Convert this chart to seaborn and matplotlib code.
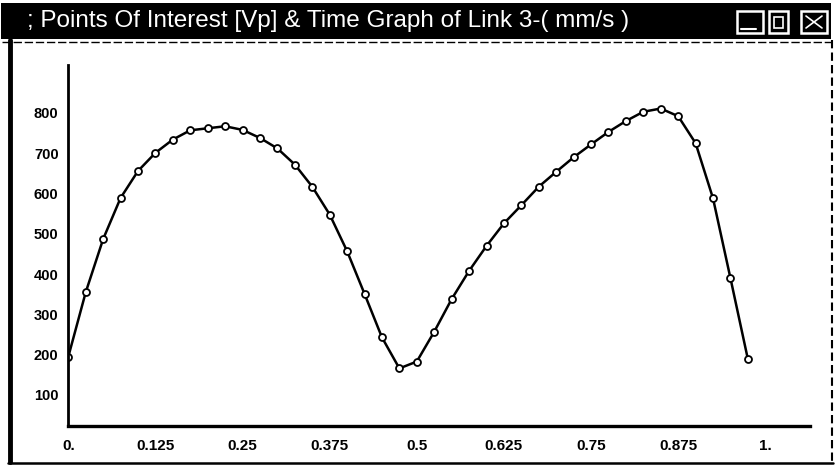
import matplotlib
matplotlib.use("Agg")
import matplotlib.pyplot as plt
import seaborn as sns
import pandas as pd
from matplotlib.patches import Rectangle
from matplotlib.lines import Line2D

# ---- data ----
time_s = [0.000, 0.025, 0.050, 0.075, 0.100, 0.125, 0.150, 0.175, 0.200, 0.225,
          0.250, 0.275, 0.300, 0.325, 0.350, 0.375, 0.400, 0.425, 0.450, 0.475,
          0.500, 0.525, 0.550, 0.575, 0.600, 0.625, 0.650, 0.675, 0.700, 0.725,
          0.750, 0.775, 0.800, 0.825, 0.850, 0.875, 0.900, 0.925, 0.950, 0.975]
vp_mm_s = [195, 355, 487, 589, 656, 701, 734, 757, 762, 767,
           758, 738, 712, 672, 617, 548, 457, 351, 243, 166,
           183, 257, 338, 408, 470, 526, 571, 617, 654, 690,
           722, 753, 780, 803, 811, 792, 725, 588, 390, 189]
x_ticks = [0, 0.125, 0.25, 0.375, 0.5, 0.625, 0.75, 0.875, 1.0]
x_tick_labels = ["0.", "0.125", "0.25", "0.375", "0.5", "0.625", "0.75", "0.875", "1."]
y_ticks = [100, 200, 300, 400, 500, 600, 700, 800]
y_tick_labels = ["100", "200", "300", "400", "500", "600", "700", "800"]
title_text = "; Points Of Interest [Vp] & Time Graph of Link 3-( mm/s )"

df = pd.DataFrame({"t": time_s, "v": vp_mm_s})

sns.set_theme(style="white")
plt.rcParams['font.family'] = ['Liberation Sans Narrow', 'Liberation Sans', 'DejaVu Sans']

W, H = 835, 473
fig = plt.figure(figsize=(W / 100, H / 100), dpi=100)
fig.patch.set_facecolor("white")

def fx(px):
    return px / W

def fy(py):
    return 1 - py / H

# ---- window chrome ----
fig.patches.append(Rectangle((fx(1), fy(39)), fx(831) - fx(1), fy(3) - fy(39),
                             transform=fig.transFigure, facecolor="black",
                             edgecolor="none", zorder=0))
fig.add_artist(Line2D([fx(2), fx(832)], [fy(42), fy(42)], transform=fig.transFigure,
                      color="black", lw=1.0, ls=(0, (6, 2))))
fig.add_artist(Line2D([fx(10), fx(10)], [fy(40), fy(462)], transform=fig.transFigure,
                      color="black", lw=3.5))
fig.add_artist(Line2D([fx(832), fx(832)], [fy(40), fy(463)], transform=fig.transFigure,
                      color="black", lw=1.5, ls=(0, (4, 2))))
fig.add_artist(Line2D([fx(8), fx(833)], [fy(463), fy(463)], transform=fig.transFigure,
                      color="black", lw=1.8))
fig.text(fx(27), fy(21), title_text, color="white", fontsize=17.5, fontweight="normal",
         ha="left", va="center")
for x0, x1 in [(737, 763), (769, 788), (801, 827)]:
    fig.patches.append(Rectangle((fx(x0), fy(33)), fx(x1) - fx(x0), fy(11) - fy(33),
                                 transform=fig.transFigure, facecolor="none",
                                 edgecolor="white", lw=1.8))
fig.add_artist(Line2D([fx(741), fx(756)], [fy(29), fy(29)], transform=fig.transFigure,
                      color="white", lw=1.5))
fig.patches.append(Rectangle((fx(774), fy(28)), fx(783) - fx(774), fy(17) - fy(28),
                             transform=fig.transFigure, facecolor="none",
                             edgecolor="white", lw=1.2))
fig.add_artist(Line2D([fx(806), fx(822)], [fy(16), fy(28)], transform=fig.transFigure,
                      color="white", lw=1.2))
fig.add_artist(Line2D([fx(806), fx(822)], [fy(28), fy(16)], transform=fig.transFigure,
                      color="white", lw=1.2))

# ---- plot ----
left_px, right_px, top_px, bottom_px = 68.3, 810, 65, 426
ax = fig.add_axes([fx(left_px), fy(bottom_px), fx(right_px) - fx(left_px),
                   fy(top_px) - fy(bottom_px)])
ax.set_facecolor("none")

sns.lineplot(data=df, x="t", y="v", ax=ax, color="black", linewidth=1.8,
             marker="o", markersize=5, markerfacecolor="white",
             markeredgecolor="black", markeredgewidth=1.3)

ax.set_xlim(0, (right_px - left_px) / 697.0)
ax.set_ylim(100 - (bottom_px - 395) / 0.4029, 100 + (395 - top_px) / 0.4029)

for s in ["top", "right"]:
    ax.spines[s].set_visible(False)
for s in ["left", "bottom"]:
    ax.spines[s].set_color("black")
ax.spines["left"].set_linewidth(2.0)
ax.spines["bottom"].set_linewidth(2.4)

ax.set_xticks(x_ticks)
ax.set_xticklabels(x_tick_labels)
ax.set_yticks(y_ticks)
ax.set_yticklabels(y_tick_labels)
ax.tick_params(axis="x", direction="in", length=4, width=1.2, color="black",
               pad=9, labelsize=11)
ax.tick_params(axis="y", length=0, pad=7, labelsize=10.5)
for lab in ax.get_xticklabels() + ax.get_yticklabels():
    lab.set_fontweight("bold")
    lab.set_color("black")
ax.set_xlabel("")
ax.set_ylabel("")
ax.grid(False)

fig.savefig("out.png", dpi=100)
